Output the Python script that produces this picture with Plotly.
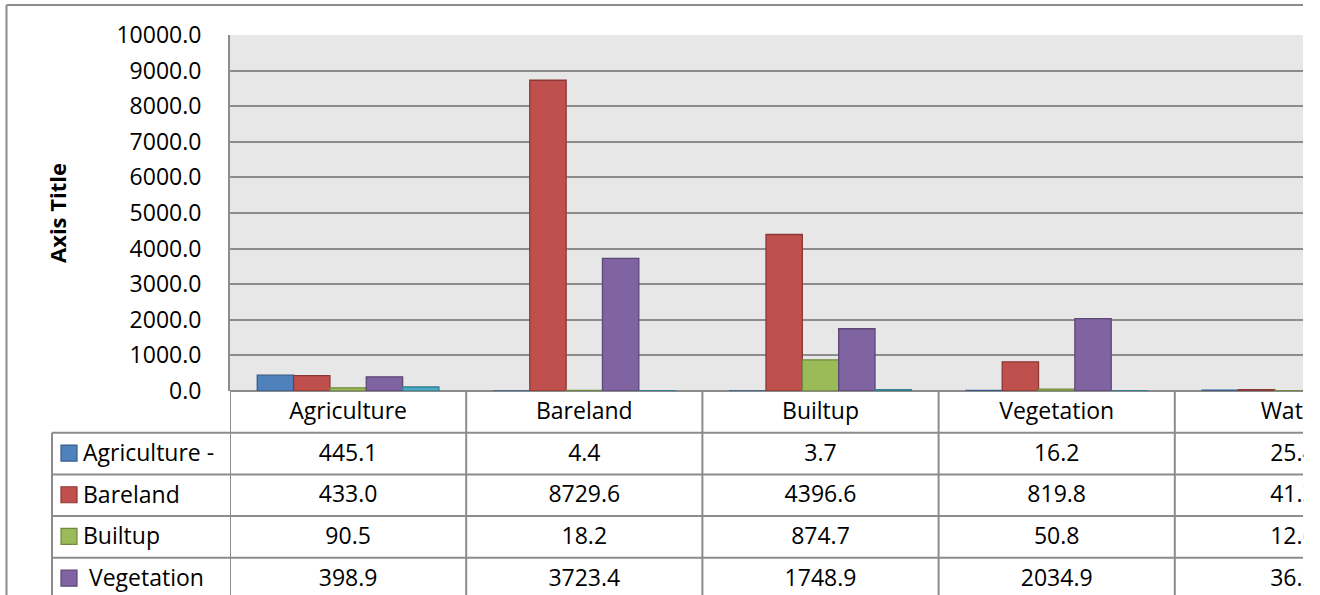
import plotly.graph_objects as go

# Land-cover categories (columns) and the series drawn for each
categories = ["Agriculture", "Bareland", "Builtup", "Vegetation", "Water"]
series_names = ["Agriculture -", "Bareland", "Builtup", " Vegetation", "Water"]

agriculture_vals = [445.1, 4.4, 3.7, 16.2, 25.4]
bareland_vals = [433.0, 8729.6, 4396.6, 819.8, 41.3]
builtup_vals = [90.5, 18.2, 874.7, 50.8, 12.6]
vegetation_vals = [398.9, 3723.4, 1748.9, 2034.9, 36.2]
water_vals = [112.0, 10.0, 40.0, 10.0, 60.0]

y_ticks = [0, 1000, 2000, 3000, 4000, 5000, 6000, 7000, 8000, 9000, 10000]

series_values = [agriculture_vals, bareland_vals, builtup_vals, vegetation_vals, water_vals]
fill_colors = ["#4F81BD", "#C0504D", "#9BBB59", "#8064A2", "#4BACC6"]
edge_colors = ["#385D8A", "#8C3836", "#71893F", "#5C4776", "#357D91"]

W, H = 1320, 595
PL, PR, PT, PB = 230, 1303, 35, 391          # plot area in pixels
COL_W = 236.2                                 # one category column
ROW_H = 41.7                                  # one data-table row
FONT = "Open Sans"
FS = 23
GRID = "#8c8c8c"
HEADER_STANDOFF = 4

x_range = [-0.5, -0.5 + (PR - PL) / COL_W]


def px_x(p):
    return (p - PL) / (PR - PL)


def px_y(p):
    return (PB - p) / (PB - PT)


fig = go.Figure()

for name, vals, fc, ec in zip(series_names, series_values, fill_colors, edge_colors):
    fig.add_trace(go.Bar(
        x=categories, y=vals, name=name.strip(),
        marker=dict(color=fc, line=dict(color=ec, width=1.3)),
        showlegend=False,
    ))

layout_axes = {}
# Header row of the data table: category names on the main x axis
layout_axes["xaxis"] = dict(
    type="category", range=x_range, tickmode="array", tickvals=categories,
    ticktext=categories, showgrid=False, zeroline=False, showline=False,
    ticks="", ticklabelstandoff=HEADER_STANDOFF,
    tickfont=dict(family=FONT, size=FS, color="#000"),
)

# One overlaid x axis per series gives the value rows of the table
for k, vals in enumerate(series_values[:4], start=1):
    ax = f"xaxis{k + 1}"
    fig.add_trace(go.Scatter(
        x=categories, y=[None] * len(categories), xaxis=f"x{k + 1}", yaxis="y",
        mode="markers", showlegend=False, hoverinfo="skip",
    ))
    layout_axes[ax] = dict(
        type="category", overlaying="x", anchor="y", side="bottom",
        range=x_range, tickmode="array", tickvals=categories,
        ticktext=[f"{v:.1f}" for v in vals],
        showgrid=False, zeroline=False, showline=False, ticks="",
        ticklabelstandoff=round(HEADER_STANDOFF + ROW_H * k),
        tickfont=dict(family=FONT, size=FS, color="#000"),
    )

shapes = []
line_style = dict(color=GRID, width=2)

# Outer chart border (left and top edges)
shapes.append(dict(type="line", xref="paper", yref="paper",
                   x0=px_x(6.5), x1=px_x(6.5), y0=px_y(5), y1=px_y(620), line=line_style))
shapes.append(dict(type="line", xref="paper", yref="paper",
                   x0=px_x(6.5), x1=1.0, y0=px_y(5), y1=px_y(5), line=line_style))

# Table column separators at category boundaries
for i in range(-1, len(categories)):
    shapes.append(dict(type="line", xref="x", yref="paper",
                       x0=i + 0.5, x1=i + 0.5, y0=0, y1=px_y(620), line=line_style))

# Table row separators and the legend column edge
row_tops = [PB + ROW_H * (k + 1) for k in range(4)]
for yt in row_tops:
    shapes.append(dict(type="line", xref="paper", yref="paper",
                       x0=px_x(52), x1=1.0, y0=px_y(yt), y1=px_y(yt), line=line_style))
shapes.append(dict(type="line", xref="paper", yref="paper",
                   x0=px_x(52), x1=px_x(52), y0=px_y(row_tops[0]), y1=px_y(620), line=line_style))

annotations = []
# Legend keys and series names in the table's first column
for k in range(4):
    cy = row_tops[k] + ROW_H / 2
    shapes.append(dict(type="rect", xref="paper", yref="paper",
                       x0=px_x(61), x1=px_x(77), y0=px_y(cy - 8.5), y1=px_y(cy + 7.5),
                       fillcolor=fill_colors[k], line=dict(color=edge_colors[k], width=1.2)))
    label = series_names[k].replace(" ", "\u00a0", 1) if series_names[k].startswith(" ") else series_names[k]
    annotations.append(dict(xref="paper", yref="paper", x=px_x(81), y=px_y(cy - 1.5),
                            xanchor="left", yanchor="middle", showarrow=False,
                            text=label, font=dict(family=FONT, size=FS, color="#000")))

# The chart's right edge is cut off here
shapes.append(dict(type="rect", xref="paper", yref="paper", layer="above",
                   x0=px_x(1303.5), x1=px_x(1340), y0=px_y(700), y1=px_y(-20),
                   fillcolor="white", line=dict(width=0)))

annotations.append(dict(xref="paper", yref="paper", x=px_x(57), y=0.5,
                        xanchor="center", yanchor="middle", textangle=-90, showarrow=False,
                        text="<b>Axis Title</b>",
                        font=dict(family=FONT, size=22, color="#000")))

fig.update_layout(
    width=W, height=H,
    margin=dict(l=PL, r=W - PR, t=PT, b=H - PB, pad=0, autoexpand=False),
    paper_bgcolor="white", plot_bgcolor="#e7e7e7",
    barmode="group", bargap=1.5 / 6.5, bargroupgap=0,
    yaxis=dict(
        range=[0, 10000], tickmode="array", tickvals=y_ticks,
        ticktext=[f"{v:.1f}" for v in y_ticks],
        showgrid=True, gridcolor=GRID, gridwidth=2,
        zeroline=True, zerolinecolor=GRID, zerolinewidth=2,
        showline=True, linecolor=GRID, linewidth=2,
        ticks="", ticklabelstandoff=22,
        tickfont=dict(family=FONT, size=FS, color="#000"),
    ),
    shapes=shapes, annotations=annotations,
    **layout_axes,
)

fig.write_html("out.html")
